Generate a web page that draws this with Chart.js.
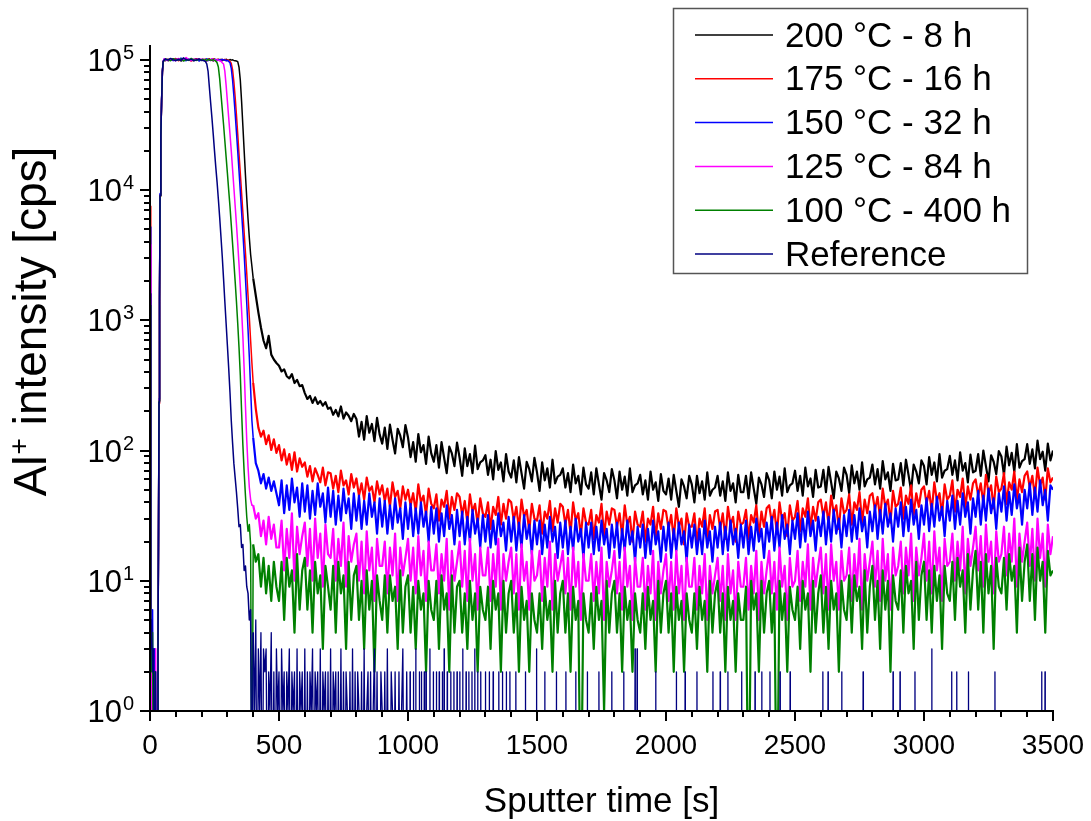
<!DOCTYPE html>
<html>
<head>
<meta charset="utf-8">
<script src="https://cdn.jsdelivr.net/npm/chart.js@4.4.1/dist/chart.umd.min.js"></script>
<style>
  html, body { margin: 0; padding: 0; background: #fff; }
</style>
</head>
<body>
<canvas id="depthChart" width="1091" height="821"></canvas>
<script>
// Al+ depth profiles, sputter time [s] vs intensity [cps]
const seriesLabels = ["200 °C - 8 h", "175 °C - 16 h", "150 °C - 32 h", "125 °C - 84 h", "100 °C - 400 h", "Reference"];
const seriesColors = ["#000000", "#ff0000", "#0000ff", "#ff00ff", "#008000", "#000080"];
const tailLineWidths = [2.2, 2.2, 2.2, 2.2, 2.2, 1.3];

const xTickLabels = ["0", "500", "1000", "1500", "2000", "2500", "3000", "3500"];
const yTickExponents = ["0", "1", "2", "3", "4", "5"];

// start of the profile: rise, plateau and fall
const headTime = [0, 3, 6, 10, 14, 18, 22, 26, 29, 31, 33, 35, 37, 39, 42, 45, 48, 51,
  55, 60, 70, 80, 90, 100, 110, 120, 130, 140, 150, 160, 170, 180, 190, 200,
  205, 210, 215, 220, 225, 230, 235, 240, 245, 250, 255, 260, 265, 270, 275, 280,
  285, 290, 295, 300, 305, 310, 315, 320, 325, 330, 335, 340, 345, 350, 355, 360,
  365, 370, 375, 380, 385, 390, 395];

const head200 = [3, 1, 0, 2, 0, 1, 0, 1, 0, 3, 25, 240, 1500, 9200, 26000, 49000, 81000, 97000,
  99500, 101000, 98500, 100500, 102000, 99000, 101500, 98000, 100000, 103000, 99500, 100500, 98500, 101000, 100000, 99000,
  100500, 99000, 101000, 98500, 100000, 102000, 99500, 100500, 98000, 101500, 99000, 100000, 100500, 99500, 101000, 98500,
  100000, 99500, 101000, 100000, 99000, 100500, 99500, 100000, 99000, 98500, 98000,
  97000, 88000, 70000, 48000, 31000, 20000, 13000, 8700, 6000, 4300, 3200, 2600];
const head175 = [7500, 2, 0, 1, 0, 2, 0, 1, 0, 3, 22, 230, 1450, 9000, 25500, 48500, 80000, 96500,
  100500, 98500, 101000, 99500, 100000, 102500, 98500, 100500, 99000, 101500, 100000, 98000, 100500, 102000, 99000, 100500,
  99500, 101000, 100000, 98500, 100500, 101500, 99000, 100000, 102000, 99500, 98500, 100500, 101000, 99000, 100000, 100500,
  99500, 101000, 98500, 100000, 99000, 97500,
  94000, 84000, 68000, 52000, 38000, 27000, 19000, 13500, 9500, 6700, 4700, 3300, 2300, 1550, 1050, 700, 470];
const head150 = [5200, 6, 2, 6, 0, 3, 0, 1, 0, 3, 24, 250, 1550, 9400, 26500, 49500, 81500, 97500,
  101500, 99000, 100000, 102000, 98500, 101000, 99500, 103000, 100000, 98500, 101500, 99000, 100500, 101000, 98000, 100500,
  101000, 99500, 100000, 102000, 98500, 100500, 99000, 101500, 100000, 99500, 101000, 98500, 100000, 100500, 99000, 101000,
  99500, 100000, 98500, 99000, 97000,
  95000, 86000, 70000, 53000, 39000, 28000, 20000, 14000, 9800, 6800, 4700, 3200, 2100, 1350, 850, 520, 300, 170];
const head125 = [3800, 5, 0, 2, 1, 0, 3, 0, 0, 3, 23, 245, 1500, 9100, 26000, 49000, 80500, 97000,
  102000, 100000, 99000, 101500, 100500, 98500, 102500, 100000, 99000, 104000, 100500, 98500, 101000, 99500, 102000, 100000,
  101500, 99000, 100500, 98000, 101000, 100000, 99500, 102000, 98500, 100500, 99000, 100000, 99500, 98500, 97500, 95000,
  93000, 82000, 64000, 48000, 36000, 27000, 20000, 14500, 10500, 7600, 5500, 3900, 2700, 1800, 1200, 750,
  420, 220, 120, 75, 52, 42, 38];
const head100 = [1300, 4, 2, 4, 0, 2, 0, 1, 0, 3, 23, 240, 1480, 9000, 25800, 48800, 80500, 96800,
  99000, 101000, 100500, 98500, 102000, 99500, 100000, 101500, 98000, 100500, 99000, 102500, 100000, 99000, 101000, 99500,
  101000, 99000, 100500, 98500, 101500, 99500, 100000, 99000, 100500, 99000, 98000, 95000,
  88000, 72000, 55000, 42000, 32000, 24000, 18000, 13500, 10000, 7500, 5400, 3900, 2800, 2000, 1400, 950,
  620, 380, 200, 110, 68, 45, 31, 24, 27, 19];
const headRef = [1600, 3, 5, 2, 3, 0, 2, 0, 0, 3, 22, 235, 1480, 9100, 26000, 48500, 80000, 97000,
  100000, 101500, 99500, 102500, 100000, 98500, 101000, 99000, 103500, 100500, 99500, 101000, 98500, 100000, 101500, 99500,
  99000, 98500, 97000, 93000, 82000, 62000, 47000, 36000, 27000, 20000, 15000, 11500, 8500, 6200, 4400, 3100,
  2100, 1400, 950, 640, 430, 280, 170, 115, 80, 62, 48, 36, 26, 27, 18, 19,
  12, 13, 9, 8, 5, 6];

// noisy tail, one reading every 10 s
const tailTime = [
  400, 410, 420, 430, 440, 450, 460, 470, 480, 490,
  500, 510, 520, 530, 540, 550, 560, 570, 580, 590,
  600, 610, 620, 630, 640, 650, 660, 670, 680, 690,
  700, 710, 720, 730, 740, 750, 760, 770, 780, 790,
  800, 810, 820, 830, 840, 850, 860, 870, 880, 890,
  900, 910, 920, 930, 940, 950, 960, 970, 980, 990,
  1000, 1010, 1020, 1030, 1040, 1050, 1060, 1070, 1080, 1090,
  1100, 1110, 1120, 1130, 1140, 1150, 1160, 1170, 1180, 1190,
  1200, 1210, 1220, 1230, 1240, 1250, 1260, 1270, 1280, 1290,
  1300, 1310, 1320, 1330, 1340, 1350, 1360, 1370, 1380, 1390,
  1400, 1410, 1420, 1430, 1440, 1450, 1460, 1470, 1480, 1490,
  1500, 1510, 1520, 1530, 1540, 1550, 1560, 1570, 1580, 1590,
  1600, 1610, 1620, 1630, 1640, 1650, 1660, 1670, 1680, 1690,
  1700, 1710, 1720, 1730, 1740, 1750, 1760, 1770, 1780, 1790,
  1800, 1810, 1820, 1830, 1840, 1850, 1860, 1870, 1880, 1890,
  1900, 1910, 1920, 1930, 1940, 1950, 1960, 1970, 1980, 1990,
  2000, 2010, 2020, 2030, 2040, 2050, 2060, 2070, 2080, 2090,
  2100, 2110, 2120, 2130, 2140, 2150, 2160, 2170, 2180, 2190,
  2200, 2210, 2220, 2230, 2240, 2250, 2260, 2270, 2280, 2290,
  2300, 2310, 2320, 2330, 2340, 2350, 2360, 2370, 2380, 2390,
  2400, 2410, 2420, 2430, 2440, 2450, 2460, 2470, 2480, 2490,
  2500, 2510, 2520, 2530, 2540, 2550, 2560, 2570, 2580, 2590,
  2600, 2610, 2620, 2630, 2640, 2650, 2660, 2670, 2680, 2690,
  2700, 2710, 2720, 2730, 2740, 2750, 2760, 2770, 2780, 2790,
  2800, 2810, 2820, 2830, 2840, 2850, 2860, 2870, 2880, 2890,
  2900, 2910, 2920, 2930, 2940, 2950, 2960, 2970, 2980, 2990,
  3000, 3010, 3020, 3030, 3040, 3050, 3060, 3070, 3080, 3090,
  3100, 3110, 3120, 3130, 3140, 3150, 3160, 3170, 3180, 3190,
  3200, 3210, 3220, 3230, 3240, 3250, 3260, 3270, 3280, 3290,
  3300, 3310, 3320, 3330, 3340, 3350, 3360, 3370, 3380, 3390,
  3400, 3410, 3420, 3430, 3440, 3450, 3460, 3470, 3480, 3490,
  3500];
const TAIL_START = 400;

const tail200 = [
  2100, 1550, 1150, 880, 700, 610, 760, 545, 500, 470,
  448, 405, 420, 372, 358, 386, 330, 349, 312, 318,
  276, 249, 263, 232, 256, 228, 240, 221, 235, 209,
  214, 188, 205, 183, 218, 176, 196, 185, 168, 191,
  175, 128, 166, 121, 184, 137, 160, 118, 178, 133,
  113, 150, 103, 158, 121, 95, 147, 130, 106, 157,
  126, 89, 116, 82, 134, 97, 110, 79, 128, 95,
  82, 110, 74, 116, 88, 67, 107, 95, 76, 115,
  88, 64, 104, 76, 94, 67, 109, 72, 81, 84,
  92, 65, 85, 60, 99, 71, 81, 58, 94, 69,
  62, 84, 57, 89, 67, 51, 82, 72, 58, 88,
  68, 49, 81, 59, 73, 52, 85, 56, 63, 65,
  73, 52, 67, 48, 78, 56, 64, 46, 74, 55,
  51, 68, 46, 73, 55, 42, 67, 59, 48, 72,
  59, 43, 69, 50, 63, 45, 73, 48, 54, 56,
  65, 46, 59, 42, 69, 50, 57, 41, 66, 49,
  46, 61, 42, 65, 49, 37, 60, 53, 43, 64,
  55, 40, 64, 47, 58, 42, 68, 45, 50, 52,
  64, 45, 58, 41, 68, 49, 56, 40, 65, 48,
  48, 64, 43, 68, 51, 39, 62, 55, 44, 67,
  59, 43, 69, 50, 63, 45, 73, 48, 54, 56,
  70, 49, 64, 45, 74, 53, 61, 44, 71, 52,
  53, 71, 48, 75, 57, 43, 69, 61, 49, 74,
  65, 47, 77, 56, 69, 50, 81, 53, 60, 62,
  78, 55, 72, 51, 83, 60, 68, 49, 79, 59,
  60, 80, 54, 85, 65, 49, 78, 69, 56, 84,
  76, 55, 89, 65, 81, 58, 94, 62, 70, 72,
  91, 65, 84, 59, 97, 70, 80, 57, 93, 68,
  70, 94, 64, 100, 76, 58, 92, 82, 66, 99,
  90, 65, 107, 77, 96, 69, 112, 74, 83, 86,
  112, 79, 102, 73, 119, 86, 98, 70, 113, 84,
  100];

const tail175 = [
  330, 210, 150, 128, 142, 112, 131, 101, 122, 96,
  110, 84, 102, 78, 94, 71, 97, 69, 87, 75,
  81, 63, 76, 58, 73, 65, 57, 74, 54, 68,
  67, 51, 64, 48, 70, 54, 59, 46, 66, 52,
  61, 45, 56, 42, 62, 49, 53, 40, 58, 46,
  54, 41, 51, 37, 57, 44, 49, 36, 53, 42,
  50, 38, 47, 34, 55, 40, 45, 32, 51, 39,
  36, 46, 29, 42, 37, 49, 30, 44, 35, 47,
  44, 32, 41, 28, 46, 34, 39, 27, 43, 33,
  31, 40, 25, 37, 32, 44, 27, 39, 30, 42,
  40, 29, 37, 25, 42, 31, 35, 24, 39, 30,
  29, 38, 23, 34, 30, 41, 24, 36, 28, 39,
  37, 27, 35, 23, 40, 29, 33, 22, 36, 28,
  27, 35, 21, 32, 28, 39, 22, 34, 27, 36,
  35, 26, 33, 22, 38, 27, 31, 20, 34, 27,
  26, 34, 20, 30, 27, 37, 21, 33, 25, 35,
  34, 25, 32, 21, 36, 26, 30, 19, 33, 26,
  26, 33, 19, 30, 26, 36, 20, 32, 25, 34,
  35, 25, 33, 21, 37, 27, 31, 20, 34, 27,
  28, 35, 21, 32, 28, 38, 22, 34, 26, 36,
  38, 28, 35, 23, 40, 29, 33, 22, 38, 29,
  31, 41, 24, 36, 31, 43, 25, 37, 29, 40,
  42, 31, 40, 27, 45, 33, 38, 25, 43, 33,
  35, 46, 27, 40, 35, 48, 28, 42, 33, 45,
  47, 35, 44, 30, 51, 37, 42, 28, 49, 37,
  39, 52, 30, 45, 39, 54, 32, 47, 37, 50,
  53, 39, 49, 34, 57, 41, 47, 32, 55, 42,
  45, 59, 34, 50, 44, 61, 36, 53, 42, 56,
  60, 45, 56, 39, 65, 47, 54, 36, 63, 48,
  51, 67, 39, 57, 50, 69, 41, 60, 48, 64,
  69, 52, 64, 44, 74, 54, 62, 42, 73, 57,
  62];

const tail150 = [
  125, 80, 70, 56, 66, 51, 62, 49, 58, 47,
  38, 59, 33, 54, 35, 61, 40, 52, 31, 56,
  34, 54, 30, 49, 32, 56, 37, 47, 28, 52,
  31, 49, 27, 45, 29, 51, 33, 43, 25, 47,
  29, 45, 25, 41, 27, 47, 31, 40, 23, 43,
  26, 41, 23, 38, 25, 43, 28, 36, 21, 40,
  25, 39, 22, 36, 23, 40, 26, 34, 20, 37,
  23, 36, 20, 33, 22, 38, 25, 32, 19, 35,
  22, 34, 19, 31, 20, 35, 23, 30, 18, 32,
  20, 32, 18, 29, 19, 33, 22, 28, 17, 31,
  20, 31, 17, 28, 18, 32, 21, 27, 16, 29,
  19, 29, 16, 27, 18, 31, 20, 26, 15, 28,
  18, 29, 16, 26, 17, 30, 20, 25, 15, 28,
  18, 28, 16, 26, 17, 29, 19, 25, 15, 27,
  18, 28, 15, 25, 17, 29, 19, 24, 14, 26,
  18, 27, 15, 25, 16, 29, 19, 24, 14, 26,
  17, 28, 15, 25, 17, 28, 19, 24, 14, 27,
  18, 27, 16, 25, 16, 29, 18, 24, 14, 26,
  18, 28, 16, 26, 17, 29, 19, 25, 15, 27,
  18, 29, 16, 26, 17, 30, 20, 25, 15, 28,
  20, 31, 17, 28, 18, 32, 21, 27, 16, 29,
  21, 33, 18, 30, 20, 34, 22, 29, 17, 31,
  22, 34, 19, 31, 20, 35, 23, 30, 18, 32,
  22, 35, 20, 32, 21, 36, 24, 31, 18, 34,
  24, 38, 21, 35, 23, 39, 26, 33, 20, 36,
  26, 40, 22, 37, 24, 42, 27, 35, 21, 38,
  27, 43, 24, 39, 26, 44, 29, 37, 22, 41,
  29, 45, 25, 41, 27, 47, 31, 40, 23, 43,
  31, 49, 27, 45, 29, 51, 33, 43, 25, 47,
  34, 53, 29, 48, 32, 55, 36, 46, 27, 50,
  36, 56, 32, 52, 34, 59, 38, 50, 29, 54,
  50];

const tail125 = [
  38, 30, 33, 22, 29, 19, 31, 21, 27, 18,
  18, 29, 12, 25, 15, 33, 10, 26, 16, 22,
  28, 13, 25, 10, 30, 15, 23, 9, 27, 16,
  15, 25, 10, 21, 13, 28, 9, 22, 14, 19,
  23, 10, 20, 8, 24, 12, 18, 7, 21, 13,
  13, 20, 8, 18, 11, 23, 7, 18, 11, 15,
  21, 10, 18, 8, 22, 11, 17, 7, 20, 12,
  12, 19, 8, 16, 10, 21, 6, 17, 10, 14,
  20, 9, 17, 7, 21, 10, 16, 6, 18, 11,
  11, 18, 7, 16, 9, 21, 6, 16, 10, 14,
  18, 8, 16, 6, 19, 10, 14, 6, 17, 10,
  11, 17, 7, 15, 9, 20, 6, 16, 10, 13,
  17, 8, 15, 6, 18, 9, 14, 5, 16, 10,
  10, 16, 7, 14, 8, 18, 5, 14, 9, 12,
  17, 8, 14, 6, 18, 9, 13, 5, 15, 9,
  9, 15, 6, 13, 8, 17, 5, 14, 8, 12,
  16, 7, 14, 6, 17, 8, 13, 5, 15, 9,
  9, 15, 6, 13, 8, 16, 5, 13, 8, 11,
  15, 7, 13, 5, 16, 8, 12, 5, 14, 9,
  9, 15, 6, 13, 8, 17, 5, 14, 8, 12,
  17, 8, 14, 6, 18, 9, 13, 5, 15, 9,
  10, 17, 7, 14, 9, 19, 6, 15, 9, 13,
  18, 8, 16, 6, 19, 10, 14, 6, 17, 10,
  11, 18, 7, 16, 9, 21, 6, 16, 10, 14,
  20, 9, 17, 7, 21, 10, 16, 6, 18, 11,
  13, 20, 8, 18, 11, 23, 7, 18, 11, 15,
  23, 10, 20, 8, 24, 12, 18, 7, 21, 13,
  14, 23, 10, 20, 12, 26, 8, 21, 13, 18,
  26, 12, 22, 9, 27, 14, 20, 8, 24, 14,
  16, 26, 11, 23, 14, 30, 9, 23, 14, 20,
  28, 13, 25, 10, 30, 15, 23, 9, 27, 16,
  22];

const tail100 = [
  19, 14, 16, 9, 15, 8, 13, 7, 14, 9,
  7, 14, 5, 15, 9, 12, 4, 16, 6, 12,
  15, 6, 12, 4, 14, 8, 11, 3, 13, 9,
  6, 13, 4, 14, 8, 11, 3, 14, 5, 11,
  13, 5, 10, 3, 12, 6, 10, 2, 11, 7,
  5, 11, 4, 11, 7, 9, 3, 12, 4, 9,
  11, 4, 9, 3, 10, 6, 8, 2, 10, 6,
  5, 10, 3, 11, 6, 8, 2, 11, 4, 9,
  10, 4, 8, 3, 10, 5, 8, 2, 9, 6,
  5, 9, 3, 10, 6, 8, 2, 10, 4, 8,
  10, 4, 8, 2, 9, 5, 7, 2, 8, 5,
  4, 8, 3, 9, 5, 7, 2, 10, 4, 8,
  10, 4, 8, 2, 9, 5, 7, 0, 8, 5,
  4, 8, 3, 9, 5, 7, 1, 10, 4, 8,
  10, 4, 8, 2, 9, 5, 7, 2, 8, 5,
  4, 8, 3, 9, 5, 7, 2, 10, 4, 8,
  10, 4, 8, 2, 9, 5, 7, 2, 8, 5,
  4, 8, 3, 9, 5, 7, 2, 10, 4, 8,
  10, 4, 8, 2, 9, 5, 7, 2, 8, 5,
  5, 9, 0, 10, 6, 8, 2, 10, 4, 8,
  10, 4, 8, 0, 10, 5, 8, 2, 9, 6,
  5, 9, 3, 10, 6, 8, 2, 10, 4, 8,
  11, 4, 9, 3, 10, 6, 8, 2, 10, 6,
  5, 11, 4, 11, 7, 9, 3, 12, 4, 9,
  13, 5, 10, 3, 12, 6, 10, 2, 11, 7,
  6, 12, 4, 13, 8, 10, 3, 14, 5, 11,
  14, 5, 12, 4, 13, 7, 11, 3, 13, 8,
  7, 14, 5, 15, 9, 12, 4, 16, 6, 12,
  17, 6, 14, 4, 16, 8, 13, 3, 15, 9,
  8, 15, 6, 16, 10, 13, 4, 18, 7, 14,
  19, 7, 16, 5, 18, 10, 14, 4, 17, 11,
  12];

// reference sample: low counts right after the layer, every 5 s up to 1000 s
const refDenseTime = [400, 405, 410, 415, 420, 425, 430, 435, 440, 445,
  450, 455, 460, 465, 470, 475, 480, 485, 490, 495,
  500, 505, 510, 515, 520, 525, 530, 535, 540, 545,
  550, 555, 560, 565, 570, 575, 580, 585, 590, 595,
  600, 605, 610, 615, 620, 625, 630, 635, 640, 645,
  650, 655, 660, 665, 670, 675, 680, 685, 690, 695,
  700, 705, 710, 715, 720, 725, 730, 735, 740, 745,
  750, 755, 760, 765, 770, 775, 780, 785, 790, 795,
  800, 805, 810, 815, 820, 825, 830, 835, 840, 845,
  850, 855, 860, 865, 870, 875, 880, 885, 890, 895,
  900, 905, 910, 915, 920, 925, 930, 935, 940, 945,
  950, 955, 960, 965, 970, 975, 980, 985, 990, 995,
  1000];
const refDenseValue = [4, 1, 5, 0, 3, 1, 4, 0, 3, 2,
  3, 0, 2, 1, 4, 0, 2, 0, 3, 1,
  2, 0, 3, 1, 2, 0, 2, 1, 3, 0,
  2, 1, 2, 0, 3, 0, 2, 1, 2, 0,
  3, 0, 2, 0, 2, 1, 3, 0, 2, 1,
  2, 0, 3, 0, 2, 1, 2, 0, 2, 0,
  3, 0, 2, 1, 2, 0, 2, 0, 3, 0,
  2, 0, 2, 1, 0, 2, 0, 3, 0, 2,
  0, 2, 1, 0, 2, 0, 3, 0, 1, 2,
  0, 2, 0, 1, 3, 0, 2, 0, 0, 2,
  1, 0, 2, 0, 3, 0, 0, 2, 1, 0,
  2, 0, 0, 2, 0, 1, 3, 0, 0, 2,
  0];
// after 1000 s the reference reads zero except at these single counts
const refSpikeTime = [1008, 1021, 1030, 1044, 1052, 1063, 1070, 1085, 1098, 1110,
  1121, 1133, 1140, 1152, 1166, 1178, 1190, 1201, 1212, 1225,
  1236, 1248, 1259, 1270, 1282, 1300, 1315, 1330, 1352, 1366,
  1381, 1395,
  1418, 1455, 1498, 1530, 1575, 1612, 1650, 1695,
  1740, 1790, 1836, 1880, 1888,
  1960, 2040, 2074, 2120, 2182,
  2210, 2240, 2293, 2345, 2371, 2403, 2442, 2481, 2608, 2628,
  2681, 2764, 2880, 2907, 2965, 3030, 3107, 3127, 3172, 3275,
  3456, 3469];
const refSpikeValue = [2, 2, 3, 2, 2, 2, 2, 3, 2, 2,
  2, 2, 3, 2, 2, 2, 2, 2, 3, 2,
  2, 2, 3, 2, 2, 2, 2, 2, 2, 2,
  2, 2,
  2, 2, 3, 2, 2, 2, 2, 2,
  2, 2, 2, 3, 3,
  2, 2, 2, 2, 2,
  2, 2, 2, 2, 2, 2, 2, 2, 2, 2,
  2, 2, 2, 2, 2, 3, 2, 2, 2, 2,
  2, 2];

const X_MAX = 3500;
const Y_MIN = 1;
const Y_MAX = 130000;
const ZERO_LEVEL = 0.1; // zero counts can't sit on a log axis, drawn below the frame

function toPoints(times, values) {
  return times.map((t, i) => ({ x: t, y: values[i] > 0 ? values[i] : ZERO_LEVEL }));
}

function spikePoints(times, values) {
  const pts = [];
  times.forEach((t, i) => {
    pts.push({ x: t - 1, y: ZERO_LEVEL }, { x: t, y: values[i] }, { x: t + 1, y: ZERO_LEVEL });
  });
  return pts;
}

const profiles = [
  toPoints(headTime, head200).concat(toPoints(tailTime, tail200)),
  toPoints(headTime, head175).concat(toPoints(tailTime, tail175)),
  toPoints(headTime, head150).concat(toPoints(tailTime, tail150)),
  toPoints(headTime, head125).concat(toPoints(tailTime, tail125)),
  toPoints(headTime, head100).concat(toPoints(tailTime, tail100)),
  toPoints(headTime, headRef).concat(toPoints(refDenseTime, refDenseValue), spikePoints(refSpikeTime, refSpikeValue))
];

const FONT = '"Liberation Sans", Arial, Helvetica, sans-serif';

// axes, ticks and labels in the Origin style
const frame = {
  id: "frame",
  afterDraw(chart) {
    const { ctx, chartArea: a } = chart;
    const xs = chart.scales.x, ys = chart.scales.y;
    ctx.save();
    ctx.strokeStyle = "#000";
    ctx.fillStyle = "#000";
    ctx.lineWidth = 2;

    ctx.beginPath();
    ctx.moveTo(a.left, a.top);
    ctx.lineTo(a.left, a.bottom);
    ctx.lineTo(a.right + 1, a.bottom);
    ctx.stroke();

    // x ticks: major every 500, minor every 100
    for (let v = 0; v <= X_MAX; v += 100) {
      const px = Math.round(xs.getPixelForValue(v));
      const len = v % 500 === 0 ? 10 : 6;
      ctx.beginPath();
      ctx.moveTo(px, a.bottom);
      ctx.lineTo(px, a.bottom + len);
      ctx.stroke();
    }
    // y ticks: decades and 2..9 minors
    for (let e = 0; e <= 5; e++) {
      for (let k = 1; k <= 9; k++) {
        const v = k * Math.pow(10, e);
        if (v > Y_MAX) break;
        const py = Math.round(ys.getPixelForValue(v));
        const len = k === 1 ? 10 : 6;
        ctx.beginPath();
        ctx.moveTo(a.left, py);
        ctx.lineTo(a.left - len, py);
        ctx.stroke();
      }
    }

    // x tick labels
    ctx.font = "28px " + FONT;
    ctx.textAlign = "center";
    ctx.textBaseline = "alphabetic";
    xTickLabels.forEach(lbl => {
      const px = xs.getPixelForValue(Number(lbl));
      ctx.fillText(lbl, px, a.bottom + 43);
    });

    // y tick labels 10^n
    yTickExponents.forEach(ex => {
      const py = ys.getPixelForValue(Math.pow(10, Number(ex)));
      const right = a.left - 16;
      ctx.font = "20px " + FONT;
      const ew = ctx.measureText(ex).width;
      ctx.textAlign = "left";
      ctx.fillText(ex, right - ew, py - 1);
      ctx.font = "31px " + FONT;
      ctx.textAlign = "right";
      ctx.fillText("10", right - ew - 1, py + 11);
    });

    // axis titles
    ctx.font = "35px " + FONT;
    ctx.textAlign = "center";
    ctx.fillText("Sputter time [s]", (a.left + a.right) / 2, 812);

    ctx.translate(46, 322);
    ctx.rotate(-Math.PI / 2);
    ctx.textAlign = "left";
    ctx.font = "46px " + FONT;
    const w1 = ctx.measureText("Al").width;
    const w3 = ctx.measureText(" intensity [cps]").width;
    ctx.font = "28px " + FONT;
    const w2 = ctx.measureText("+").width;
    const x0 = -(w1 + w2 + w3) / 2;
    ctx.font = "46px " + FONT;
    ctx.fillText("Al", x0, 0);
    ctx.font = "28px " + FONT;
    ctx.fillText("+", x0 + w1 + 1, -18);
    ctx.font = "46px " + FONT;
    ctx.fillText(" intensity [cps]", x0 + w1 + w2 + 1, 0);
    ctx.restore();
  }
};

// framed legend in the upper right
const legendBox = {
  id: "legendBox",
  afterDraw(chart) {
    const { ctx } = chart;
    ctx.save();
    ctx.fillStyle = "#fff";
    ctx.fillRect(673, 8, 354, 265);
    ctx.strokeStyle = "#555";
    ctx.lineWidth = 1.5;
    ctx.strokeRect(673.5, 8.5, 354, 265);
    ctx.font = "35px " + FONT;
    ctx.textBaseline = "middle";
    ctx.textAlign = "left";
    chart.data.datasets.forEach((ds, i) => {
      const y = 35 + i * 43.8;
      ctx.strokeStyle = ds.borderColor;
      ctx.lineWidth = 1.5;
      ctx.beginPath();
      ctx.moveTo(695, y);
      ctx.lineTo(773, y);
      ctx.stroke();
      ctx.fillStyle = "#000";
      ctx.fillText(ds.label, 785, y + 2);
    });
    ctx.restore();
  }
};

new Chart(document.getElementById("depthChart"), {
  type: "line",
  data: {
    datasets: profiles.map((pts, i) => ({
      label: seriesLabels[i],
      data: pts,
      borderColor: seriesColors[i],
      backgroundColor: seriesColors[i],
      borderWidth: 1.5,
      borderJoinStyle: "round",
      segment: {
        // the noisy tail is drawn a little heavier so it reads as a band
        borderWidth: c => (c.p0.parsed.x >= TAIL_START ? tailLineWidths[i] : undefined)
      },
      pointRadius: 0,
      tension: 0,
      fill: false,
      order: profiles.length - 1 - i
    }))
  },
  options: {
    responsive: false,
    animation: false,
    layout: { padding: { left: 150, top: 45, right: 38, bottom: 110 } },
    scales: {
      x: { type: "linear", min: 0, max: X_MAX, display: false },
      y: { type: "logarithmic", min: Y_MIN, max: Y_MAX, display: false }
    },
    plugins: {
      legend: { display: false },
      tooltip: { enabled: false }
    }
  },
  plugins: [frame, legendBox]
});
</script>
</body>
</html>
